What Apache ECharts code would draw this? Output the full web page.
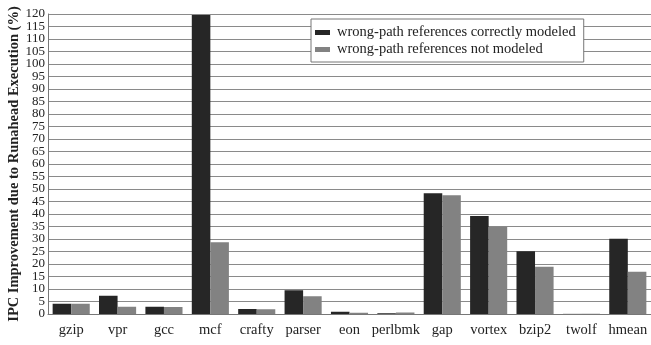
<!DOCTYPE html>
<html>
<head>
<meta charset="utf-8">
<script src="https://cdn.jsdelivr.net/npm/echarts@6/dist/echarts.min.js"></script>
<style>
  html, body { margin: 0; padding: 0; background: #fff; }
  #chart { width: 651px; height: 345px; }
</style>
</head>
<body>
<div id="chart"></div>
<script>
// Benchmarks and the IPC gain from runahead execution (%)
const benchmarks = ['gzip', 'vpr', 'gcc', 'mcf', 'crafty', 'parser', 'eon', 'perlbmk', 'gap', 'vortex', 'bzip2', 'twolf', 'hmean'];
const correctlyModeled = [4.1, 7.3, 2.9, 119.6, 2.0, 9.5, 0.9, 0.3, 48.3, 39.2, 25.1, 0.05, 30.1];
const notModeled = [4.1, 2.9, 2.8, 28.7, 1.9, 7.1, 0.5, 0.6, 47.5, 34.9, 18.9, 0.1, 16.9];
const seriesNames = ['wrong-path references correctly modeled', 'wrong-path references not modeled'];
const yMin = 0, yMax = 120, yStep = 5;

const serif = '"Liberation Serif", "DejaVu Serif", serif';
const tickLabel = { fontFamily: serif, fontSize: 13, color: '#222', margin: 3 };
const chart = echarts.init(document.getElementById('chart'), null, { renderer: 'canvas' });

chart.setOption({
  animation: false,
  grid: { left: 48, right: 0, top: 14, bottom: 31, containLabel: false, outerBoundsMode: 'none' },
  legend: {
    orient: 'vertical',
    left: 311,
    top: 19,
    padding: [6, 8, 5, 4],
    itemGap: 2,
    itemWidth: 15,
    itemHeight: 5,
    backgroundColor: '#fff',
    borderColor: '#777',
    borderWidth: 1,
    icon: 'rect',
    textStyle: { fontFamily: serif, fontSize: 14.5, color: '#222', padding: [0, 0, 0, 2] },
    data: seriesNames
  },
  xAxis: {
    type: 'category',
    data: benchmarks,
    axisLine: { lineStyle: { color: '#777', width: 1 } },
    axisTick: { alignWithLabel: true, length: 5, lineStyle: { color: '#777' } },
    axisLabel: { interval: 0, fontFamily: serif, fontSize: 14.5, color: '#222', margin: 9 }
  },
  yAxis: [
    {
      // main value axis: grid lines and the inner tick labels
      type: 'value',
      position: 'left',
      min: yMin,
      max: yMax,
      interval: yStep,
      name: 'IPC Improvement due to Runahead Execution (%)',
      nameLocation: 'middle',
      nameGap: 26,
      nameMoveOverlap: false,
      nameTextStyle: { fontFamily: serif, fontSize: 14.5, fontWeight: 'bold', color: '#222' },
      axisLine: { show: true, lineStyle: { color: '#777', width: 1 } },
      axisTick: { show: false },
      axisLabel: Object.assign({ showMinLabel: false, showMaxLabel: false }, tickLabel),
      splitLine: { lineStyle: { color: '#8a8a8a', width: 1.2 } }
    },
    {
      // companion axis carrying only the end labels (0 and 120)
      type: 'value',
      position: 'left',
      offset: 0,
      min: yMin,
      max: yMax,
      interval: yMax - yMin,
      axisLine: { show: false },
      axisTick: { show: false },
      splitLine: { show: false },
      axisLabel: Object.assign({ showMinLabel: true, showMaxLabel: true }, tickLabel)
    }
  ],
  series: [
    {
      name: seriesNames[0],
      type: 'bar',
      yAxisIndex: 0,
      data: correctlyModeled,
      barGap: '0%',
      barCategoryGap: '20%',
      itemStyle: { color: '#262626' }
    },
    {
      name: seriesNames[1],
      type: 'bar',
      yAxisIndex: 0,
      data: notModeled,
      itemStyle: { color: '#828282' }
    }
  ]
});
</script>
</body>
</html>
